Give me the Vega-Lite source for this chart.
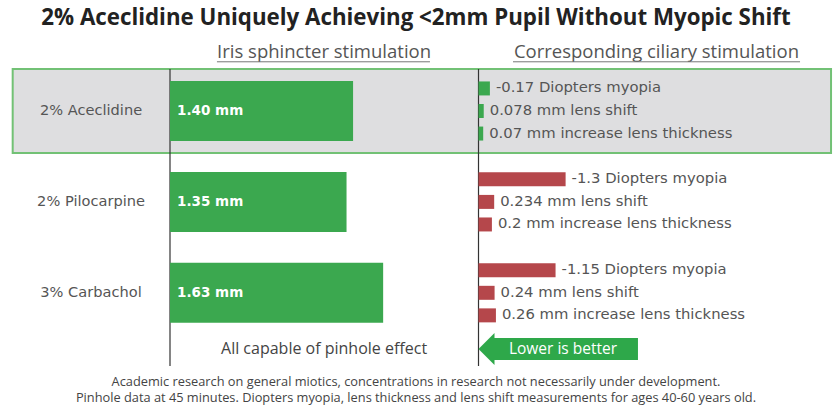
{
  "$schema": "https://vega.github.io/schema/vega-lite/v6.json",
  "width": 833,
  "height": 410,
  "autosize": {"type": "fit", "contains": "padding"},
  "padding": 0,
  "background": "white",
  "config": {"view": {"stroke": null}},
  "datasets": {
    "pupil": [
      {"drug": "2% Aceclidine", "pupil_mm": 1.40, "label": "1.40 mm"},
      {"drug": "2% Pilocarpine", "pupil_mm": 1.35, "label": "1.35 mm"},
      {"drug": "3% Carbachol", "pupil_mm": 1.63, "label": "1.63 mm"}
    ],
    "ciliary": [
      {"drug": "2% Aceclidine", "metric": "myopia", "magnitude": 0.17, "label": "-0.17 Diopters myopia"},
      {"drug": "2% Aceclidine", "metric": "shift", "magnitude": 0.078, "label": "0.078 mm lens shift"},
      {"drug": "2% Aceclidine", "metric": "thickness", "magnitude": 0.07, "label": "0.07 mm increase lens thickness"},
      {"drug": "2% Pilocarpine", "metric": "myopia", "magnitude": 1.3, "label": "-1.3 Diopters myopia"},
      {"drug": "2% Pilocarpine", "metric": "shift", "magnitude": 0.234, "label": "0.234 mm lens shift"},
      {"drug": "2% Pilocarpine", "metric": "thickness", "magnitude": 0.2, "label": "0.2 mm increase lens thickness"},
      {"drug": "3% Carbachol", "metric": "myopia", "magnitude": 1.15, "label": "-1.15 Diopters myopia"},
      {"drug": "3% Carbachol", "metric": "shift", "magnitude": 0.24, "label": "0.24 mm lens shift"},
      {"drug": "3% Carbachol", "metric": "thickness", "magnitude": 0.26, "label": "0.26 mm increase lens thickness"}
    ]
  },
  "resolve": {"scale": {"x": "independent"}, "axis": {"x": "independent"}},
  "layer": [
    {
      "layer": [
        {
          "data": {"values": [{}]},
          "mark": {"type": "bar", "height": {"band": 1.4}, "fill": "#dedee0", "stroke": "#72c175", "strokeWidth": 2},
          "encoding": {
            "x": {"datum": -1.203, "type": "quantitative", "axis": null, "scale": {"domain": [-1.3, 5.07], "nice": false, "zero": false}},
            "x2": {"datum": 5.055},
            "y": {"datum": "2% Aceclidine", "type": "nominal", "axis": null, "scale": {"domain": ["2% Aceclidine", "2% Pilocarpine", "3% Carbachol"], "paddingInner": 0.34, "paddingOuter": 0.925, "align": 0.4816, "round": false}}
          }
        },
        {
          "data": {"values": [{}]},
          "mark": {"type": "rule", "color": "#333333", "strokeWidth": 1.2},
          "encoding": {
            "x": {"datum": 0, "type": "quantitative", "axis": null, "scale": {"domain": [-1.3, 5.07], "nice": false, "zero": false}},
            "y": {"datum": "2% Aceclidine", "type": "nominal", "bandPosition": -0.2, "axis": null},
            "y2": {"datum": "3% Carbachol", "bandPosition": 1.72}
          }
        },
        {
          "data": {"name": "pupil"},
          "mark": {"type": "bar", "color": "#3ba84f"},
          "encoding": {
            "x": {"field": "pupil_mm", "type": "quantitative", "axis": null, "scale": {"domain": [-1.3, 5.07], "nice": false, "zero": false}},
            "x2": {"datum": 0},
            "y": {"field": "drug", "type": "nominal", "axis": null}
          }
        },
        {
          "data": {"name": "pupil"},
          "mark": {"type": "text", "align": "left", "baseline": "middle", "color": "white", "font": "DejaVu Sans", "fontWeight": "bold", "fontSize": 13.5},
          "encoding": {
            "x": {"datum": 0.054, "type": "quantitative", "axis": null, "scale": {"domain": [-1.3, 5.07], "nice": false, "zero": false}},
            "y": {"field": "drug", "type": "nominal", "axis": null},
            "text": {"field": "label"}
          }
        },
        {
          "data": {"name": "pupil"},
          "mark": {"type": "text", "align": "center", "baseline": "middle", "color": "#555555", "font": "DejaVu Sans", "fontSize": 14.6},
          "encoding": {
            "x": {"datum": -0.604, "type": "quantitative", "axis": null, "scale": {"domain": [-1.3, 5.07], "nice": false, "zero": false}},
            "y": {"field": "drug", "type": "nominal", "axis": null},
            "text": {"field": "drug"}
          }
        },
        {
          "data": {"values": [{}]},
          "mark": {"type": "text", "align": "center", "baseline": "middle", "color": "#222222", "font": "Open Sans", "fontWeight": "bold", "fontSize": 22.3},
          "encoding": {
            "x": {"datum": 1.881, "type": "quantitative", "axis": null, "scale": {"domain": [-1.3, 5.07], "nice": false, "zero": false}},
            "y": {"datum": "2% Aceclidine", "type": "nominal", "bandPosition": -1.05, "axis": null},
            "text": {"value": "2% Aceclidine Uniquely Achieving <2mm Pupil Without Myopic Shift"}
          }
        },
        {
          "data": {"values": [{}]},
          "mark": {"type": "text", "align": "center", "baseline": "middle", "color": "#555555", "font": "Open Sans", "fontSize": 18.5},
          "encoding": {
            "x": {"datum": 1.178, "type": "quantitative", "axis": null, "scale": {"domain": [-1.3, 5.07], "nice": false, "zero": false}},
            "y": {"datum": "2% Aceclidine", "type": "nominal", "bandPosition": -0.483, "axis": null},
            "text": {"value": "Iris sphincter stimulation"}
          }
        },
        {
          "data": {"values": [{}]},
          "mark": {"type": "text", "align": "center", "baseline": "middle", "color": "#555555", "font": "Open Sans", "fontSize": 18.5},
          "encoding": {
            "x": {"datum": 3.72, "type": "quantitative", "axis": null, "scale": {"domain": [-1.3, 5.07], "nice": false, "zero": false}},
            "y": {"datum": "2% Aceclidine", "type": "nominal", "bandPosition": -0.483, "axis": null},
            "text": {"value": "Corresponding ciliary stimulation"}
          }
        },
        {
          "data": {"values": [{}]},
          "mark": {"type": "rule", "color": "#777777", "strokeWidth": 1},
          "encoding": {
            "x": {"datum": 0.359, "type": "quantitative", "axis": null, "scale": {"domain": [-1.3, 5.07], "nice": false, "zero": false}},
            "x2": {"datum": 1.988},
            "y": {"datum": "2% Aceclidine", "type": "nominal", "bandPosition": -0.32, "axis": null}
          }
        },
        {
          "data": {"values": [{}]},
          "mark": {"type": "rule", "color": "#777777", "strokeWidth": 1},
          "encoding": {
            "x": {"datum": 2.623, "type": "quantitative", "axis": null, "scale": {"domain": [-1.3, 5.07], "nice": false, "zero": false}},
            "x2": {"datum": 4.818},
            "y": {"datum": "2% Aceclidine", "type": "nominal", "bandPosition": -0.32, "axis": null}
          }
        },
        {
          "data": {"values": [{}]},
          "mark": {"type": "text", "align": "center", "baseline": "middle", "color": "#444444", "font": "Open Sans", "fontSize": 16},
          "encoding": {
            "x": {"datum": 1.178, "type": "quantitative", "axis": null, "scale": {"domain": [-1.3, 5.07], "nice": false, "zero": false}},
            "y": {"datum": "3% Carbachol", "type": "nominal", "bandPosition": 1.436, "axis": null},
            "text": {"value": "All capable of pinhole effect"}
          }
        },
        {
          "data": {"values": [{}]},
          "mark": {"type": "text", "align": "center", "baseline": "middle", "color": "#444444", "font": "Open Sans", "fontSize": 12.8},
          "encoding": {
            "x": {"datum": 1.881, "type": "quantitative", "axis": null, "scale": {"domain": [-1.3, 5.07], "nice": false, "zero": false}},
            "y": {"datum": "3% Carbachol", "type": "nominal", "bandPosition": 1.98, "axis": null},
            "text": {"value": "Academic research on general miotics, concentrations in research not necessarily under development."}
          }
        },
        {
          "data": {"values": [{}]},
          "mark": {"type": "text", "align": "center", "baseline": "middle", "color": "#444444", "font": "Open Sans", "fontSize": 12.8},
          "encoding": {
            "x": {"datum": 1.881, "type": "quantitative", "axis": null, "scale": {"domain": [-1.3, 5.07], "nice": false, "zero": false}},
            "y": {"datum": "3% Carbachol", "type": "nominal", "bandPosition": 2.255, "axis": null},
            "text": {"value": "Pinhole data at 45 minutes.  Diopters myopia, lens thickness and lens shift measurements for ages 40-60 years old."}
          }
        }
      ]
    },
    {
      "layer": [
        {
          "data": {"values": [{}]},
          "mark": {"type": "rule", "color": "#333333", "strokeWidth": 1.2},
          "encoding": {
            "x": {"datum": 0, "type": "quantitative", "axis": null, "scale": {"domain": [-7.142, 5.291], "nice": false, "zero": false}},
            "y": {"datum": "2% Aceclidine", "type": "nominal", "bandPosition": -0.2, "axis": null},
            "y2": {"datum": "3% Carbachol", "bandPosition": 1.72}
          }
        },
        {
          "data": {"name": "ciliary"},
          "mark": {"type": "bar"},
          "encoding": {
            "x": {"field": "magnitude", "type": "quantitative", "axis": null, "scale": {"domain": [-7.142, 5.291], "nice": false, "zero": false}},
            "x2": {"datum": 0},
            "y": {"field": "drug", "type": "nominal", "axis": null},
            "yOffset": {"field": "metric", "type": "nominal", "scale": {"domain": ["myopia", "shift", "thickness"], "paddingInner": 0.38, "paddingOuter": 0.02}},
            "color": {"field": "drug", "type": "nominal", "legend": null, "scale": {"domain": ["2% Aceclidine", "2% Pilocarpine", "3% Carbachol"], "range": ["#3ba84f", "#b5474b", "#b5474b"]}}
          }
        },
        {
          "data": {"name": "ciliary"},
          "mark": {"type": "text", "align": "left", "baseline": "middle", "dx": 6, "color": "#555555", "font": "DejaVu Sans", "fontSize": 14.8},
          "encoding": {
            "x": {"field": "magnitude", "type": "quantitative", "axis": null, "scale": {"domain": [-7.142, 5.291], "nice": false, "zero": false}},
            "y": {"field": "drug", "type": "nominal", "axis": null},
            "yOffset": {"field": "metric", "type": "nominal"},
            "text": {"field": "label"}
          }
        },
        {
          "data": {"values": [{}]},
          "mark": {"type": "rule", "color": "#2ea84a", "strokeWidth": 22, "strokeCap": "butt"},
          "encoding": {
            "x": {"datum": 0.22, "type": "quantitative", "axis": null, "scale": {"domain": [-7.142, 5.291], "nice": false, "zero": false}},
            "x2": {"datum": 2.38},
            "y": {"datum": "3% Carbachol", "type": "nominal", "bandPosition": 1.436, "axis": null}
          }
        },
        {
          "data": {"values": [{}]},
          "mark": {"type": "point", "shape": "M0.5,-1L-0.5,0L0.5,1Z", "size": 1024, "filled": true, "opacity": 1, "color": "#2ea84a"},
          "encoding": {
            "x": {"datum": 0.119, "type": "quantitative", "axis": null, "scale": {"domain": [-7.142, 5.291], "nice": false, "zero": false}},
            "y": {"datum": "3% Carbachol", "type": "nominal", "bandPosition": 1.436, "axis": null}
          }
        },
        {
          "data": {"values": [{}]},
          "mark": {"type": "text", "align": "center", "baseline": "middle", "color": "white", "font": "Open Sans", "fontSize": 15.5},
          "encoding": {
            "x": {"datum": 1.261, "type": "quantitative", "axis": null, "scale": {"domain": [-7.142, 5.291], "nice": false, "zero": false}},
            "y": {"datum": "3% Carbachol", "type": "nominal", "bandPosition": 1.436, "axis": null},
            "text": {"value": "Lower is better"}
          }
        }
      ]
    }
  ]
}
